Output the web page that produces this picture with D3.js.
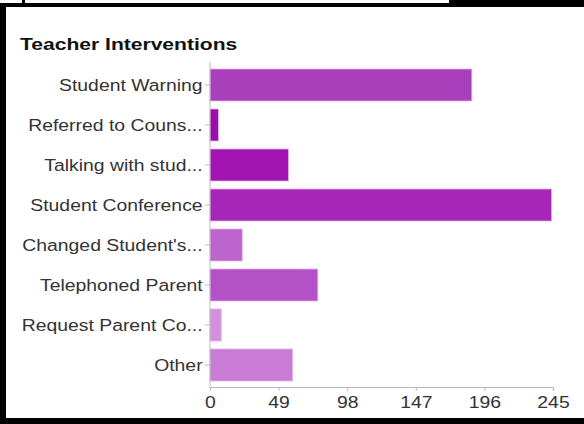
<!DOCTYPE html>
<html><head><meta charset="utf-8">
<script src="https://cdn.jsdelivr.net/npm/d3@7"></script>
<style>body{margin:0;background:#fff;}svg{display:block;font-family:"Liberation Sans",Arial,sans-serif;}</style>
</head><body>
<svg id="c" width="584" height="424"></svg>
<script>
const categories = ["Student Warning","Referred to Couns...","Talking with stud...","Student Conference","Changed Student's...","Telephoned Parent","Request Parent Co...","Other"];
const values = [187, 6, 56, 244, 23, 77, 8, 59];
const colors = ["#aa3fbc","#9b0eab","#a114b2","#a626b8","#bd64cc","#b551c6","#d191db","#c87cd6"];
const tickValues = [0, 49, 98, 147, 196, 245];
const title = "Teacher Interventions";

const svg = d3.select("#c");
// frame
svg.append("rect").attr("x",0).attr("y",3).attr("width",584).attr("height",4).attr("fill","#000");
svg.append("rect").attr("x",0).attr("y",3).attr("width",6).attr("height",421).attr("fill","#000");
svg.append("rect").attr("x",0).attr("y",418).attr("width",584).attr("height",6).attr("fill","#000");
svg.append("rect").attr("x",22).attr("y",0).attr("width",3).attr("height",4).attr("fill","#000");
svg.append("rect").attr("x",449).attr("y",0).attr("width",135).attr("height",4).attr("fill","#000");

svg.append("text").attr("transform","translate(20,50) scale(1.24,1)").attr("font-size",17).attr("font-weight","bold").attr("fill","#111").text(title);

const x = d3.scaleLinear().domain([0,245]).range([210,553]);
const y = d3.scaleBand().domain(categories).range([65,385]).paddingInner(0.2).paddingOuter(0.1);

svg.selectAll("rect.bar").data(categories).join("rect").attr("class","bar")
  .attr("x",x(0)).attr("y",d=>y(d)).attr("width",(d,i)=>x(values[i])-x(0)).attr("height",y.bandwidth())
  .attr("fill",(d,i)=>colors[i]).attr("stroke","#e0b0e8").attr("stroke-width",0.8);

const ya = svg.append("g").attr("transform","translate(210,0)").call(d3.axisLeft(y).tickSize(5).tickSizeOuter(0));
ya.select(".domain").attr("stroke","#bbb").attr("d","M0,62V388");
ya.selectAll(".tick line").attr("stroke","#bbb");
ya.selectAll(".tick text").attr("font-size",17).attr("fill","#333").attr("x",-6.5).attr("dy","0.36em")
  .attr("transform","scale(1.14,1)").attr("font-family","Liberation Sans, Arial, sans-serif");

const xa = svg.append("g").attr("transform","translate(0,387)").call(d3.axisBottom(x).tickValues(tickValues).tickSize(4).tickSizeOuter(0));
xa.select(".domain").attr("stroke","#bbb");
xa.selectAll(".tick line").attr("stroke","#bbb");
xa.selectAll(".tick text").attr("font-size",17).attr("fill","#333").attr("dy","0.85em")
  .attr("transform","scale(1.14,1)").attr("font-family","Liberation Sans, Arial, sans-serif");
</script>
</body></html>
